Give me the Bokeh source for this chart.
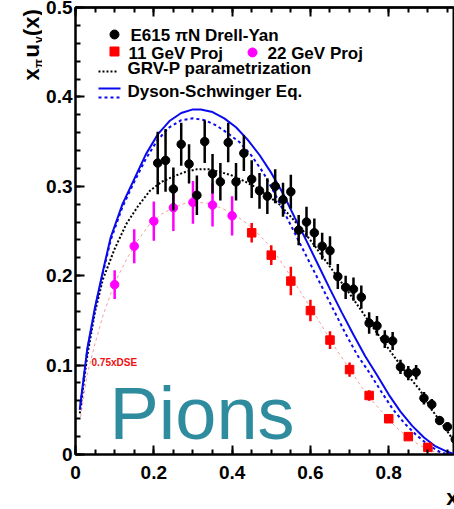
from bokeh.plotting import figure
from bokeh.models import LinearAxis, FixedTicker, CustomJSTickFormatter, Label, Range1d
from bokeh.layouts import row, column
from bokeh.embed import file_html
from bokeh.resources import INLINE
import numpy as np

# ---------------- data ----------------
e615_x = [0.21, 0.23, 0.25, 0.27, 0.29, 0.31, 0.33, 0.35, 0.37, 0.39, 0.41, 0.43,
          0.45, 0.47, 0.49, 0.51, 0.53, 0.55, 0.57, 0.59, 0.61, 0.63, 0.65, 0.67,
          0.69, 0.71, 0.73, 0.75, 0.77, 0.79, 0.81, 0.83, 0.85, 0.87, 0.89, 0.91,
          0.93, 0.95, 0.97]
e615_y = [0.326, 0.329, 0.297, 0.347, 0.325, 0.290, 0.350, 0.314, 0.305, 0.349,
          0.305, 0.337, 0.308, 0.295, 0.289, 0.300, 0.285, 0.294, 0.251, 0.260,
          0.248, 0.233, 0.228, 0.199, 0.187, 0.185, 0.176, 0.147, 0.144, 0.129,
          0.127, 0.098, 0.091, 0.092, 0.063, 0.056, 0.038, 0.031, 0.017]
e615_err = [0.035, 0.035, 0.024, 0.024, 0.022, 0.022, 0.024, 0.022, 0.021, 0.022,
            0.021, 0.020, 0.021, 0.020, 0.020, 0.019, 0.019, 0.019, 0.017, 0.017,
            0.016, 0.015, 0.016, 0.014, 0.013, 0.013, 0.013, 0.012, 0.011, 0.010,
            0.010, 0.008, 0.008, 0.008, 0.007, 0.006, 0.005, 0.005, 0.005]

p11_x = [0.45, 0.50, 0.55, 0.60, 0.65, 0.70, 0.75, 0.80, 0.85, 0.90]
p11_y = [0.248, 0.223, 0.194, 0.161, 0.128, 0.095, 0.066, 0.040, 0.020, 0.008]
p11_err = [0.011, 0.011, 0.016, 0.012, 0.010, 0.008, 0.006, 0.004, 0.003, 0.002]

p22_x = [0.10, 0.15, 0.20, 0.25, 0.30, 0.35, 0.40]
p22_y = [0.190, 0.233, 0.261, 0.276, 0.282, 0.279, 0.267]
p22_err = [0.016, 0.019, 0.022, 0.026, 0.024, 0.024, 0.022]

dse_x = [0.011, 0.03, 0.05, 0.07, 0.09, 0.12, 0.15, 0.18, 0.21, 0.24, 0.27, 0.30,
         0.32, 0.35, 0.38, 0.41, 0.44, 0.47, 0.50, 0.53, 0.56, 0.59, 0.62, 0.65,
         0.68, 0.71, 0.74, 0.77, 0.80, 0.83, 0.86, 0.89, 0.92, 0.95, 0.97]
dse_y = [0.051, 0.118, 0.165, 0.205, 0.243, 0.280, 0.308, 0.336, 0.358, 0.373,
         0.382, 0.386, 0.386, 0.383, 0.376, 0.366, 0.352, 0.335, 0.315, 0.292,
         0.265, 0.239, 0.212, 0.185, 0.159, 0.134, 0.110, 0.089, 0.067, 0.048,
         0.032, 0.019, 0.009, 0.003, 0.000]

dse2_x = [0.011, 0.03, 0.05, 0.07, 0.09, 0.12, 0.15, 0.18, 0.21, 0.24, 0.27, 0.30,
          0.33, 0.36, 0.39, 0.42, 0.45, 0.48, 0.51, 0.54, 0.57, 0.60, 0.63, 0.66,
          0.69, 0.72, 0.75, 0.78, 0.81, 0.84, 0.87, 0.90, 0.93, 0.95]
dse2_y = [0.050, 0.116, 0.163, 0.203, 0.240, 0.277, 0.305, 0.331, 0.352, 0.366,
          0.374, 0.376, 0.374, 0.368, 0.359, 0.349, 0.334, 0.315, 0.291, 0.265,
          0.239, 0.213, 0.187, 0.161, 0.135, 0.111, 0.092, 0.071, 0.051, 0.035,
          0.022, 0.011, 0.003, 0.000]

grv_x = [0.011, 0.03, 0.05, 0.07, 0.10, 0.13, 0.16, 0.19, 0.22, 0.25, 0.28, 0.31,
         0.34, 0.37, 0.40, 0.43, 0.46, 0.49, 0.52, 0.55, 0.58, 0.61, 0.64, 0.67,
         0.70, 0.73, 0.76, 0.79, 0.82, 0.85, 0.88, 0.91, 0.94, 0.97]
grv_y = [0.046, 0.110, 0.160, 0.196, 0.230, 0.258, 0.278, 0.295, 0.305, 0.311,
         0.316, 0.319, 0.319, 0.316, 0.312, 0.306, 0.299, 0.290, 0.280, 0.266,
         0.251, 0.234, 0.216, 0.198, 0.180, 0.161, 0.142, 0.124, 0.106, 0.088,
         0.072, 0.050, 0.032, 0.013]

d75_x = [0.013, 0.03, 0.05, 0.07, 0.10, 0.13, 0.16, 0.19, 0.22, 0.25, 0.28, 0.31,
         0.34, 0.37, 0.40, 0.43, 0.46, 0.49, 0.52, 0.55, 0.58, 0.61, 0.64, 0.67,
         0.70, 0.73, 0.76, 0.79, 0.82, 0.85, 0.88, 0.91, 0.94]
d75_y = [0.042, 0.090, 0.124, 0.155, 0.192, 0.218, 0.240, 0.258, 0.269, 0.276,
         0.281, 0.282, 0.281, 0.276, 0.270, 0.261, 0.250, 0.236, 0.219, 0.199,
         0.178, 0.158, 0.136, 0.115, 0.096, 0.076, 0.059, 0.044, 0.030, 0.019,
         0.010, 0.004, 0.001]

x_ticks = [0, 0.2, 0.4, 0.6, 0.8]
y_ticks = [0, 0.1, 0.2, 0.3, 0.4, 0.5]
x_minor = [round(0.05 * i, 3) for i in range(21)]
y_minor = [round(0.02 * i, 3) for i in range(26)]

FONT = "Liberation Sans"
BLUE = "#0a0aee"
K = 0.29   # text-anchor correction (fraction of font size)

# ---------------- main figure ----------------
p = figure(width=412, height=489, output_backend="svg", toolbar_location=None,
           x_range=Range1d(0, 0.968), y_range=Range1d(0, 0.5),
           min_border_left=33, min_border_right=0, min_border_top=7,
           min_border_bottom=35, x_axis_location=None, y_axis_location=None)
p.grid.visible = False
p.outline_line_color = "black"
p.outline_line_width = 2

fmt = CustomJSTickFormatter(code="var s = tick.toFixed(1); return s == '0.0' ? '0' : s;")

def style_axis(ax):
    ax.axis_line_width = 2
    ax.major_tick_line_width = 2
    ax.minor_tick_line_width = 2
    ax.major_tick_in = 9
    ax.major_tick_out = 0
    ax.minor_tick_in = 5
    ax.minor_tick_out = 0
    ax.major_label_text_font = FONT
    ax.major_label_text_font_style = "bold"
    ax.major_label_text_font_size = "19px"
    ax.major_label_text_color = "black"

xax = LinearAxis(ticker=FixedTicker(ticks=x_ticks, minor_ticks=x_minor), formatter=fmt)
style_axis(xax)
xax.major_label_standoff = 11
p.add_layout(xax, "below")

yax = LinearAxis(ticker=FixedTicker(ticks=y_ticks, minor_ticks=y_minor), formatter=fmt)
style_axis(yax)
yax.major_label_standoff = 3
p.add_layout(yax, "left")

for mt, ln in ((x_minor, 5), (x_ticks, 9)):
    tax = LinearAxis(ticker=FixedTicker(ticks=[], minor_ticks=mt))
    tax.axis_line_width = 2
    tax.minor_tick_line_width = 2
    tax.minor_tick_in = ln
    tax.minor_tick_out = 0
    tax.major_tick_in = 0
    tax.major_tick_out = 0
    tax.major_label_standoff = 0
    p.add_layout(tax, "above")

# ---------------- curves ----------------
p.line(d75_x, d75_y, line_color="#f2a0a0", line_width=1, line_dash="3 3")
p.line(grv_x, grv_y, line_color="black", line_width=2, line_dash="2 2")
p.line(dse2_x, dse2_y, line_color=BLUE, line_width=2, line_dash="3 3")
p.line(dse_x, dse_y, line_color=BLUE, line_width=2)

# ---------------- data points ----------------
def errbars(xs, ys, es, color):
    lo = [y - e for y, e in zip(ys, es)]
    hi = [y + e for y, e in zip(ys, es)]
    p.segment(x0=xs, y0=lo, x1=xs, y1=hi, line_color=color, line_width=2.5)

errbars(p22_x, p22_y, p22_err, "#ff00ff")
p.scatter(p22_x, p22_y, marker="circle", size=8.5, color="#ff00ff")
errbars(p11_x, p11_y, p11_err, "#ff0000")
p.scatter(p11_x, p11_y, marker="square", size=8.5, color="#ff0000")
errbars(e615_x, e615_y, e615_err, "black")
p.scatter(e615_x, e615_y, marker="circle", size=8.5, color="black")

# ---------------- legend (drawn by hand) ----------------
p.scatter([0.0996], [0.4698], marker="circle", size=9, color="black")
p.scatter([0.0996], [0.4508], marker="square", size=9, color="#ff0000")
p.scatter([0.4521], [0.4497], marker="circle", size=9, color="#ff00ff")
p.line([0.0587, 0.1098], [0.4284, 0.4284], line_color="black", line_width=2, line_dash="2 2")
p.line([0.0587, 0.1150], [0.4094, 0.4094], line_color=BLUE, line_width=2)
p.line([0.0587, 0.1150], [0.3993, 0.3993], line_color=BLUE, line_width=2, line_dash="3 3")

def txt(fig, x, y, s, size, color="black", style="bold", angle=0):
    fig.add_layout(Label(x=x, y=y, text=s, text_font=FONT, text_font_size=f"{size}px",
                         text_font_style=style, text_color=color, angle=angle,
                         text_align="left", text_baseline="alphabetic"))

YS = 894.0   # px per data unit (y) in main frame
def mtxt(x, y, s, size, **kw):
    txt(p, x, y + K * size / YS, s, size, **kw)

mtxt(0.1405, 0.4636, "E615 \u03c0N Drell-Yan", 17)
mtxt(0.1354, 0.4430, "11 GeV Proj", 17)
mtxt(0.4904, 0.4430, "22 GeV Proj", 17)
mtxt(0.1328, 0.4262, "GRV-P parametrization", 17)
mtxt(0.1328, 0.4004, "Dyson-Schwinger Eq.", 17)

mtxt(0.0409, 0.0996, "0.75xDSE", 10, color="#ee1111")
mtxt(0.0868, 0.0213, "Pions", 74, color="#2e8c9e", style="normal")

# ---------------- left strip: y-axis title ----------------
def blank(w, h):
    f = figure(width=w, height=h, output_backend="svg", toolbar_location=None,
               x_range=Range1d(0, w), y_range=Range1d(0, h),
               min_border=0, x_axis_location=None, y_axis_location=None)
    f.grid.visible = False
    f.outline_line_color = None
    return f

pl = blank(42, 509)
ang = np.pi / 2
def vtxt(xb, ystart, s, size):
    txt(pl, xb - K * size, 509 - ystart, s, size, angle=ang)

vtxt(37.0, 80, "x", 22)
vtxt(41.8, 67.5, "\u03c0", 12)
vtxt(37.0, 57, "u", 22)
vtxt(41.8, 42.5, "v", 12)
vtxt(37.0, 35.5, "(x)", 22)

# ---------------- bottom strip: x-axis title ----------------
pb = blank(412, 20)
txt(pb, 403, 6 + K * 22, "x", 22)

layout = row(pl, column(p, pb, spacing=0), spacing=0)
open("out.html", "w").write(file_html(layout, INLINE))
